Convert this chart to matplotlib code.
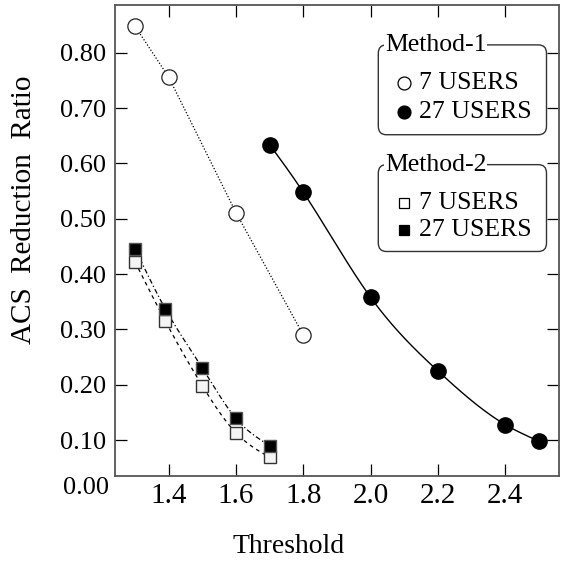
import numpy as np
import matplotlib
matplotlib.use("Agg")
import matplotlib.pyplot as plt
from matplotlib.patches import FancyBboxPatch

plt.rcParams['font.family'] = ['Liberation Serif', 'DejaVu Serif']

# ---- data ----
m1_7_x = [1.3, 1.4, 1.6, 1.8]
m1_7_y = [0.848, 0.756, 0.511, 0.290]
m1_27_x = [1.7, 1.8, 2.0, 2.2, 2.4, 2.5]
m1_27_y = [0.634, 0.548, 0.358, 0.225, 0.128, 0.098]
m2_x = [1.3, 1.39, 1.5, 1.6, 1.7]
m2_7_y = [0.422, 0.315, 0.198, 0.113, 0.069]
m2_27_y = [0.446, 0.337, 0.230, 0.139, 0.090]

xticks = [1.4, 1.6, 1.8, 2.0, 2.2, 2.4]
xtick_labels = ["1.4", "1.6", "1.8", "2.0", "2.2", "2.4"]
yticks = [0.1, 0.2, 0.3, 0.4, 0.5, 0.6, 0.7, 0.8]
ytick_labels = ["0.10", "0.20", "0.30", "0.40", "0.50", "0.60", "0.70", "0.80"]
legend_groups = ["Method-1", "Method-2"]
legend_entries = ["7 USERS", "27 USERS"]


def natural_spline(x, y, n=200):
    x = np.asarray(x, float); y = np.asarray(y, float)
    k = len(x)
    h = np.diff(x)
    A = np.zeros((k, k)); b = np.zeros(k)
    A[0, 0] = 1; A[-1, -1] = 1
    for i in range(1, k - 1):
        A[i, i - 1] = h[i - 1]
        A[i, i] = 2 * (h[i - 1] + h[i])
        A[i, i + 1] = h[i]
        b[i] = 3 * ((y[i + 1] - y[i]) / h[i] - (y[i] - y[i - 1]) / h[i - 1])
    c = np.linalg.solve(A, b)
    xs = np.linspace(x[0], x[-1], n)
    ys = np.empty_like(xs)
    for j, xv in enumerate(xs):
        i = min(np.searchsorted(x, xv, side='right') - 1, k - 2)
        i = max(i, 0)
        bi = (y[i + 1] - y[i]) / h[i] - h[i] * (2 * c[i] + c[i + 1]) / 3
        di = (c[i + 1] - c[i]) / (3 * h[i])
        dx = xv - x[i]
        ys[j] = y[i] + bi * dx + c[i] * dx ** 2 + di * dx ** 3
    return xs, ys


fig = plt.figure(figsize=(5.67, 5.65), dpi=100)
ax = fig.add_axes([0.2023, 0.1575, 0.7836, 0.8342])

spine_col = '#555555'
# lines
ax.plot(m1_7_x, m1_7_y, color='black', lw=0.9, ls=(0, (1, 1.5)), zorder=2)
sx, sy = natural_spline(m1_27_x, m1_27_y)
ax.plot(sx, sy, color='black', lw=1.0, zorder=2)
sx, sy = natural_spline(m2_x, m2_7_y)
ax.plot(sx, sy, color='black', lw=0.9, ls=(0, (3, 3)), zorder=2)
sx, sy = natural_spline(m2_x, m2_27_y)
ax.plot(sx, sy, color='black', lw=0.9, ls=(0, (4, 2, 1, 2)), zorder=2)

# markers
ax.plot(m1_7_x, m1_7_y, 'o', ms=11, mfc='white', mec='#222222', mew=0.9, zorder=3)
ax.plot(m1_27_x, m1_27_y, 'o', ms=11, mfc='black', mec='black', mew=1.0, zorder=3)
ax.plot(m2_x, m2_7_y, 's', ms=9.3, mfc='#f4f4f4', mec='#333333', mew=1.0, zorder=3)
ax.plot(m2_x, m2_27_y, 's', ms=9.3, mfc='black', mec='#555555', mew=1.0, zorder=4)

ax.set_xlim(1.2395, 2.56)
ax.set_ylim(0.035, 0.887)
ax.set_xticks(xticks)
ax.set_xticklabels(xtick_labels, fontsize=21)
ax.set_yticks(yticks)
ax.set_yticklabels(ytick_labels, fontsize=19)
ax.tick_params(direction='in', length=8.6, width=0.9, color='black',
               top=True, right=True, pad=6)
ax.tick_params(axis='x', pad=5)
for s in ax.spines.values():
    s.set_color(spine_col)
    s.set_linewidth(1.3)

# "0.00" label at the bottom of the axis
ax.annotate("0.00", xy=(0, 0), xycoords='axes fraction', xytext=(-4.3, -8.5),
            textcoords='offset points', ha='right', va='center', fontsize=19)

ax.set_xlabel("Threshold", fontsize=20)
ax.xaxis.set_label_coords(0.391, -0.122)
ax.set_ylabel("ACS  Reduction  Ratio", fontsize=21)
ax.yaxis.set_label_coords(-0.176, 0.565)


# custom legend boxes (axes fraction coords)
def fx(px):
    return (px - 114.7) / 444.3


def fy(py):
    return (477 - py) / 472.3


def legend_box(top, bottom, title):
    x0, x1 = fx(378.3), fx(546.5)
    y0, y1 = fy(bottom), fy(top)
    box = FancyBboxPatch((x0, y0), x1 - x0, y1 - y0,
                         boxstyle="round,pad=0,rounding_size=0.018",
                         transform=ax.transAxes, facecolor='white',
                         edgecolor='#333333', lw=1.0, zorder=5)
    ax.add_patch(box)
    ax.text(fx(385), fy(top), title, transform=ax.transAxes, fontsize=18.5,
            ha='left', va='center', zorder=6,
            bbox=dict(facecolor='white', edgecolor='none', pad=0.5))
    return box


entry_ys = [[83, 112], [203, 230]]
tops = [45, 165]
bottoms = [135, 252]
markers = ['o', 's']
msizes = [9.3, 7.6]
for g, title in enumerate(legend_groups):
    legend_box(tops[g], bottoms[g], title)
    for e, label in enumerate(legend_entries):
        fc = 'white' if e == 0 else 'black'
        ax.plot([fx(403.5)], [fy(entry_ys[g][e])], markers[g], ms=msizes[g],
                mfc=fc, mec='black', mew=0.9, transform=ax.transAxes,
                clip_on=False, zorder=7)
        ax.text(fx(419), fy(entry_ys[g][e]), label, transform=ax.transAxes,
                fontsize=18.5, ha='left', va='center', zorder=7)

fig.savefig("out.png", dpi=100)
